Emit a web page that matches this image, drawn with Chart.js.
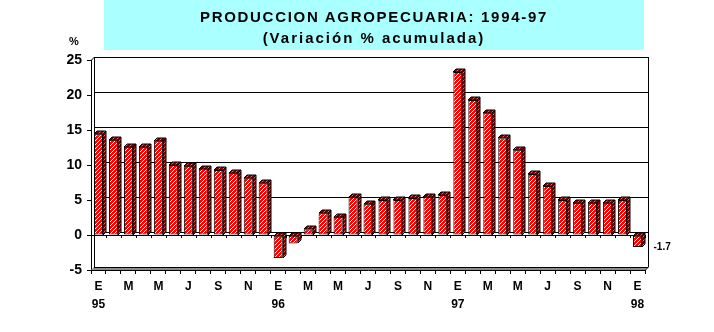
<!DOCTYPE html>
<html>
<head>
<meta charset="utf-8">
<script src="https://cdn.jsdelivr.net/npm/chart.js@4.4.1/dist/chart.umd.min.js"></script>
<style>
  html, body { margin: 0; padding: 0; background: #ffffff; }
  #wrap { position: relative; width: 714px; height: 332px; overflow: hidden; background: #ffffff; }
  #chart { position: absolute; left: 0; top: 0; }
  #titleBox {
    position: absolute; left: 104px; top: 0; width: 540px; height: 50px;
    background: #aaffff;
    font-family: "Liberation Sans", Arial, sans-serif; font-weight: bold; font-size: 15px;
    color: #000; text-align: center; letter-spacing: 1.7px;
  }
  #titleBox .l1 { position: absolute; left: 0; right: 0; top: 9px; line-height: 16px; }
  #titleBox .l2 { position: absolute; left: 0; right: 0; top: 30px; line-height: 16px; letter-spacing: 2px; }
  #unit {
    position: absolute; left: 69px; top: 35px;
    font-family: "Liberation Sans", Arial, sans-serif; font-weight: bold; font-size: 11px;
  }
</style>
</head>
<body>
<div id="wrap">
  <canvas id="chart" width="714" height="332"></canvas>
  <div id="titleBox">
    <div class="l1">PRODUCCION AGROPECUARIA: 1994-97</div>
    <div class="l2">(Variación % acumulada)</div>
  </div>
  <div id="unit">%</div>
</div>
<script>
// Month initials (Spanish) and the years spanned by the series
const monthInitials = ['E','F','M','A','M','J','J','A','S','O','N','D'];
const yearLabels = ['95','96','97','98'];

// One category per month, Enero 1995 .. Enero 1998
const categories = [];
for (let y = 0; y < yearLabels.length; y++) {
  for (let m = 0; m < 12; m++) {
    if (y === yearLabels.length - 1 && m > 0) break;
    categories.push(monthInitials[m] + ' ' + yearLabels[y]);
  }
}

// Cumulative % change of agricultural production
const variacion = [
  14.4, 13.6, 12.6, 12.6, 13.4, 10.0, 9.9, 9.5, 9.3, 8.9, 8.2, 7.4,
  -3.3, -1.2, 0.8, 3.1, 2.6, 5.5, 4.4, 5.0, 5.0, 5.3, 5.5, 5.7,
  23.3, 19.3, 17.4, 13.8, 12.1, 8.7, 7.0, 5.0, 4.6, 4.6, 4.6, 5.0,
  -1.7
];

// Bars whose value is written beside them
const labelledBars = [36];

// Y axis range
const yMin = -5, yMax = 25, yStep = 5;

const DEPTH = 3; // 3D offset of the back plane, px

function hatch(base, stripe) {
  const c = document.createElement('canvas');
  c.width = 4; c.height = 4;
  const g = c.getContext('2d');
  g.fillStyle = base; g.fillRect(0, 0, 4, 4);
  g.fillStyle = stripe;
  for (let x = 0; x < 4; x++) {
    const y = 3 - x;
    g.fillRect(x, y, 1, 1);
  }
  return g.createPattern(c, 'repeat');
}
const ctxMain = document.getElementById('chart').getContext('2d');
const frontFill = hatch('#ff0000', '#ffffff');
const sideFill = hatch('#800000', '#909090');

// Back wall, floor and zero slab
const wallPlugin = {
  id: 'wall',
  beforeDatasetsDraw(chart) {
    const { ctx, chartArea: a, scales: { x, y } } = chart;
    const L = a.left, R = a.right;
    ctx.save();
    ctx.strokeStyle = '#000'; ctx.lineWidth = 1;
    // floor (at yMin)
    const yf = Math.round(y.getPixelForValue(yMin));
    ctx.fillStyle = '#8c8c8c';
    ctx.beginPath();
    ctx.moveTo(L, yf); ctx.lineTo(R, yf);
    ctx.lineTo(R + DEPTH, yf - DEPTH); ctx.lineTo(L + DEPTH, yf - DEPTH);
    ctx.closePath(); ctx.fill();
    ctx.beginPath();
    ctx.moveTo(L + DEPTH, yf - DEPTH + 0.5); ctx.lineTo(R + DEPTH, yf - DEPTH + 0.5);
    ctx.stroke();
    // back wall gridlines
    for (let v = yMin + yStep; v <= yMax; v += yStep) {
      const py = Math.round(y.getPixelForValue(v)) - DEPTH + 0.5;
      ctx.beginPath();
      ctx.moveTo(L + DEPTH, py); ctx.lineTo(R + DEPTH, py);
      ctx.stroke();
    }
    // zero back line
    const y0 = Math.round(y.getPixelForValue(0));
    ctx.beginPath();
    ctx.moveTo(L + DEPTH, y0 - DEPTH + 0.5); ctx.lineTo(R + DEPTH, y0 - DEPTH + 0.5);
    ctx.stroke();
    // wall verticals
    const yt = Math.round(y.getPixelForValue(yMax));
    ctx.beginPath();
    ctx.moveTo(L + DEPTH + 0.5, yt - DEPTH); ctx.lineTo(L + DEPTH + 0.5, yf - DEPTH);
    ctx.moveTo(R + DEPTH + 0.5, yt - DEPTH); ctx.lineTo(R + DEPTH + 0.5, yf - DEPTH);
    ctx.moveTo(L + 0.5, yt); ctx.lineTo(L + DEPTH + 0.5, yt - DEPTH);
    ctx.moveTo(R + 0.5, yf); ctx.lineTo(R + DEPTH + 0.5, yf - DEPTH);
    ctx.stroke();
    // zero front edge with category ticks
    ctx.beginPath();
    ctx.moveTo(L, y0 + 0.5); ctx.lineTo(R, y0 + 0.5);
    const n = x.ticks.length;
    for (let i = 0; i <= n; i++) {
      const px = Math.round(x.getPixelForValue(i - 0.5)) + 0.5;
      ctx.moveTo(px, y0); ctx.lineTo(px, y0 + 3);
    }
    ctx.stroke();
    ctx.restore();
  },
  afterDatasetsDraw(chart) {
    const { ctx } = chart;
    const meta = chart.getDatasetMeta(0);
    ctx.save();
    ctx.strokeStyle = '#000'; ctx.lineWidth = 1;
    meta.data.forEach((bar, i) => {
      const p = bar.getProps(['x', 'y', 'base', 'width'], true);
      const l = Math.round(p.x - p.width / 2), r = Math.round(p.x + p.width / 2);
      const top = Math.round(Math.min(p.y, p.base)), bot = Math.round(Math.max(p.y, p.base));
      ctx.fillStyle = sideFill;
      // side face
      ctx.beginPath();
      ctx.moveTo(r, top); ctx.lineTo(r + DEPTH, top - DEPTH);
      ctx.lineTo(r + DEPTH, bot - DEPTH); ctx.lineTo(r, bot); ctx.closePath();
      ctx.fill(); ctx.stroke();
      // top face
      ctx.beginPath();
      ctx.moveTo(l, top); ctx.lineTo(l + DEPTH, top - DEPTH);
      ctx.lineTo(r + DEPTH, top - DEPTH); ctx.lineTo(r, top); ctx.closePath();
      ctx.fill(); ctx.stroke();
      if (labelledBars.includes(i)) {
        ctx.fillStyle = '#000';
        ctx.font = 'bold 10px "Liberation Sans", Arial, sans-serif';
        ctx.textAlign = 'left'; ctx.textBaseline = 'middle';
        const v = variacion[i];
        ctx.fillText(v.toFixed(1), p.x + 16, Math.max(p.y, p.base));
      }
    });
    ctx.restore();
  }
};

new Chart(ctxMain, {
  type: 'bar',
  data: {
    labels: categories,
    datasets: [{
      data: variacion,
      backgroundColor: frontFill,
      borderColor: '#000000',
      borderWidth: 1,
      borderSkipped: false,
      barPercentage: 0.6,
      categoryPercentage: 1.0
    }]
  },
  options: {
    responsive: false,
    animation: false,
    events: [],
    layout: { padding: { top: 60, right: 69, bottom: 0, left: 0 } },
    plugins: { legend: { display: false }, tooltip: { enabled: false }, title: { display: false } },
    scales: {
      x: {
        offset: true,
        afterFit(s) { s.height = 62; },
        grid: { offset: true, drawOnChartArea: false, drawTicks: true, tickLength: 4, color: '#000' },
        border: { display: true, color: '#000' },
        ticks: {
          autoSkip: false, maxRotation: 0, minRotation: 0, padding: 3, color: '#000',
          font: { family: '"Liberation Sans", Arial, sans-serif', size: 12, weight: 'bold', lineHeight: 1.55 },
          callback(v, i) {
            if (i % 2 !== 0) return '';
            const m = monthInitials[i % 12];
            return i % 12 === 0 ? [m, yearLabels[i / 12]] : m;
          }
        }
      },
      y: {
        min: yMin, max: yMax,
        afterFit(s) { s.width = 91; },
        grid: { drawOnChartArea: false, drawTicks: true, tickLength: 4, color: '#000' },
        border: { display: true, color: '#000' },
        ticks: {
          stepSize: yStep, padding: 5, color: '#000',
          font: { family: '"Liberation Sans", Arial, sans-serif', size: 14, weight: 'bold' }
        }
      }
    }
  },
  plugins: [wallPlugin]
});
</script>
</body>
</html>
